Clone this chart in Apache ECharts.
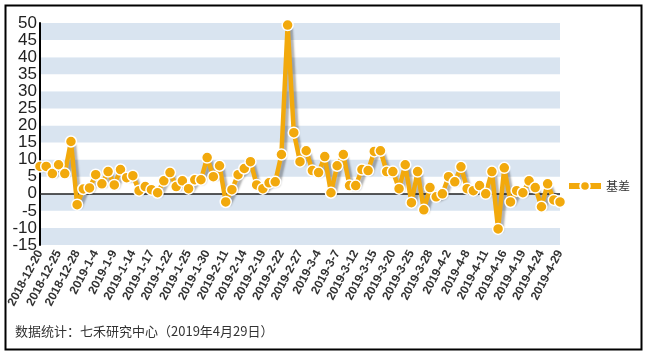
<!DOCTYPE html>
<html>
<head>
<meta charset="utf-8">
<script src="https://cdn.jsdelivr.net/npm/echarts@6/dist/echarts.min.js"></script>
<style>
  html, body { margin: 0; padding: 0; background: #fff; }
  #chart { width: 645px; height: 351px; }
</style>
</head>
<body>
<div id="chart"></div>
<script>
// trading days shown on the x axis
const dates = [
  '2018-12-20', '2018-12-21', '2018-12-24', '2018-12-25', '2018-12-26', '2018-12-27', '2018-12-28',
  '2019-1-2', '2019-1-3', '2019-1-4', '2019-1-7', '2019-1-8', '2019-1-9', '2019-1-10', '2019-1-11',
  '2019-1-14', '2019-1-15', '2019-1-16', '2019-1-17', '2019-1-18', '2019-1-21', '2019-1-22', '2019-1-23',
  '2019-1-24', '2019-1-25', '2019-1-28', '2019-1-29', '2019-1-30', '2019-1-31', '2019-2-1',
  '2019-2-11', '2019-2-12', '2019-2-13', '2019-2-14', '2019-2-15', '2019-2-18', '2019-2-19', '2019-2-20',
  '2019-2-21', '2019-2-22', '2019-2-25', '2019-2-26', '2019-2-27', '2019-2-28',
  '2019-3-1', '2019-3-4', '2019-3-5', '2019-3-6', '2019-3-7', '2019-3-8', '2019-3-11', '2019-3-12',
  '2019-3-13', '2019-3-14', '2019-3-15', '2019-3-18', '2019-3-19', '2019-3-20', '2019-3-21', '2019-3-22',
  '2019-3-25', '2019-3-26', '2019-3-27', '2019-3-28', '2019-3-29',
  '2019-4-1', '2019-4-2', '2019-4-3', '2019-4-4', '2019-4-8', '2019-4-9', '2019-4-10', '2019-4-11',
  '2019-4-12', '2019-4-15', '2019-4-16', '2019-4-17', '2019-4-18', '2019-4-19', '2019-4-22', '2019-4-23',
  '2019-4-24', '2019-4-25', '2019-4-26', '2019-4-29'
];

// 基差
const basis = [
  8.0, 8.0, 5.9, 8.5, 5.9, 15.3, -3.2, 1.4, 1.7, 5.6, 2.9, 6.5, 2.6, 7.1, 4.7,
  5.3, 0.9, 2.1, 1.2, 0.3, 3.8, 6.2, 2.1, 3.8, 1.5, 4.1, 4.1, 10.6, 5.0, 8.2,
  -2.4, 1.2, 5.6, 7.4, 9.4, 2.6, 1.5, 3.2, 3.5, 11.5, 49.4, 17.9, 9.4, 12.6,
  6.8, 6.2, 10.9, 0.3, 8.2, 11.5, 2.4, 2.4, 7.1, 6.8, 12.4, 12.6, 6.5, 6.5, 1.5, 8.5,
  -2.6, 6.5, -4.7, 1.8, -0.9,
  0.0, 5.0, 3.5, 7.9, 1.5, 0.9, 2.4, 0.0, 6.5, -10.3, 7.6, -2.4, 0.9, 0.3, 3.8,
  1.8, -3.8, 2.9, -1.8, -2.4
];

const seriesName = '基差';
const footNote = '数据统计：七禾研究中心（2019年4月29日）';

const myChart = echarts.init(document.getElementById('chart'));

const option = {
  animation: false,
  textStyle: { fontFamily: 'Liberation Sans, Arial, sans-serif' },
  grid: { left: 40, right: 85, top: 23, bottom: 106 },
  legend: {
    data: [seriesName],
    right: 10,
    top: 175,
    orient: 'vertical',
    itemWidth: 32,
    itemHeight: 12,
    itemGap: 8,
    lineStyle: { width: 6 },
    textStyle: { fontSize: 12, color: '#333', fontFamily: 'Noto Sans CJK SC' }
  },
  xAxis: {
    type: 'category',
    data: dates,
    boundaryGap: false,
    axisLine: { show: false },
    axisTick: { show: false },
    axisLabel: {
      interval: 2,
      rotate: 62,
      fontSize: 12,
      fontWeight: 'bold',
      color: '#333',
      margin: 6
    }
  },
  yAxis: {
    type: 'value',
    min: -15,
    max: 50,
    interval: 5,
    axisLine: { show: true, lineStyle: { color: '#000', width: 2 } },
    axisTick: { show: false },
    axisLabel: { fontSize: 17, color: '#222', margin: 3 },
    splitLine: { show: false },
    splitArea: {
      show: true,
      areaStyle: { color: ['#D9E4F0', '#FFFFFF'] }
    }
  },
  series: [
    {
      name: seriesName,
      type: 'line',
      data: basis,
      symbol: 'circle',
      symbolSize: 11,
      showAllSymbol: true,
      itemStyle: { color: '#F2A90C', borderColor: '#fff', borderWidth: 1.5 },
      lineStyle: {
        color: '#F2A90C',
        width: 4.5,
        shadowColor: 'rgba(0,0,0,0.3)',
        shadowOffsetX: 3,
        shadowOffsetY: 3,
        shadowBlur: 2
      },
      markLine: {
        silent: true,
        symbol: 'none',
        label: { show: false },
        lineStyle: { color: '#222', type: 'solid', width: 1.5 },
        data: [{ yAxis: 0 }],
        z: 1
      }
    }
  ],
  graphic: [
    {
      type: 'text',
      left: 15,
      top: 325,
      style: { text: footNote, fontSize: 13, fill: '#333', fontFamily: 'Noto Sans CJK SC' }
    },
    {
      type: 'rect',
      left: 3,
      top: 3,
      shape: { width: 636, height: 344 },
      style: { fill: 'none', stroke: '#000', lineWidth: 2 },
      silent: true
    }
  ]
};

myChart.setOption(option);
</script>
</body>
</html>
